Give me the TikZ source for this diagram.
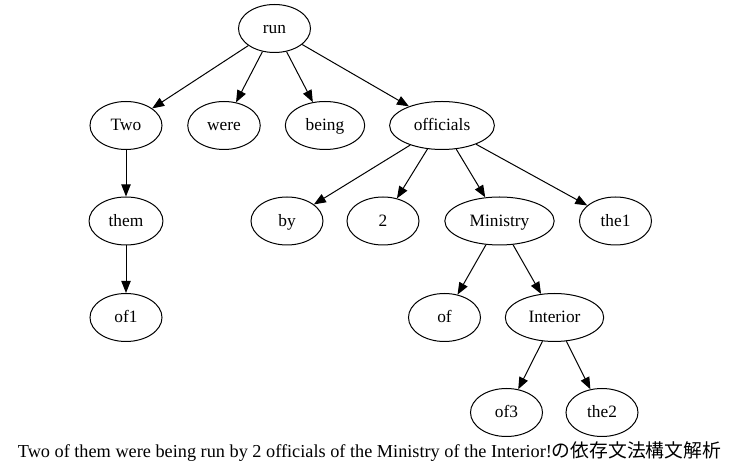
\documentclass[tikz,border=0pt]{standalone}
\usepackage{fontspec}
\setmainfont{Liberation Serif}
\newfontfamily\jpfont{Noto Sans CJK JP}
\usetikzlibrary{arrows.meta, shapes.geometric}

\begin{document}
\begin{tikzpicture}[x=0.75pt, y=-0.75pt, line width=0.75pt,
  -{Triangle[length=9pt,width=7pt]},
  word node/.style={draw, ellipse, minimum width=54pt, minimum height=36pt,
    inner xsep=6.6pt, inner ysep=2pt, text height=10pt, text depth=2pt,
    font=\fontsize{13}{15}\selectfont}]
\useasboundingbox (0,0) rectangle (740,473);
\node[word node] (1)  at (274.5,28.5)  {run};
\node[word node] (2)  at (126,125.5)   {Two};
\node[word node] (3)  at (224,125.5)   {were};
\node[word node] (4)  at (325,125.5)   {being};
\node[word node] (5)  at (442,125.5)   {officials};
\node[word node] (6)  at (126,221)     {them};
\node[word node] (7)  at (287,221)     {by};
\node[word node] (8)  at (383,221)     {2};
\node[word node] (9)  at (499.5,221)   {Ministry};
\node[word node] (10) at (615.5,221)   {the1};
\node[word node] (11) at (126,317.5)   {of1};
\node[word node] (12) at (444.5,317.5) {of};
\node[word node] (13) at (554.5,317.5) {Interior};
\node[word node] (14) at (506.5,412.5) {of3};
\node[word node] (15) at (602,412.5)   {the2};
\node[inner sep=0pt, font=\fontsize{13.7}{16}\selectfont] (caption) at (369.5,452)
  {Two of them were being run by 2 officials of the Ministry of the Interior!{\jpfont\fontsize{14.1}{16}\selectfont の依存文法構文解析}};

\path
(1)  edge (2)
     edge (3)
     edge (4)
     edge (5)
(2)  edge (6)
(6)  edge (11)
(5)  edge (7)
     edge (8)
     edge (9)
     edge (10)
(9)  edge (12)
     edge (13)
(13) edge (14)
     edge (15)
;
\end{tikzpicture}
\end{document}
